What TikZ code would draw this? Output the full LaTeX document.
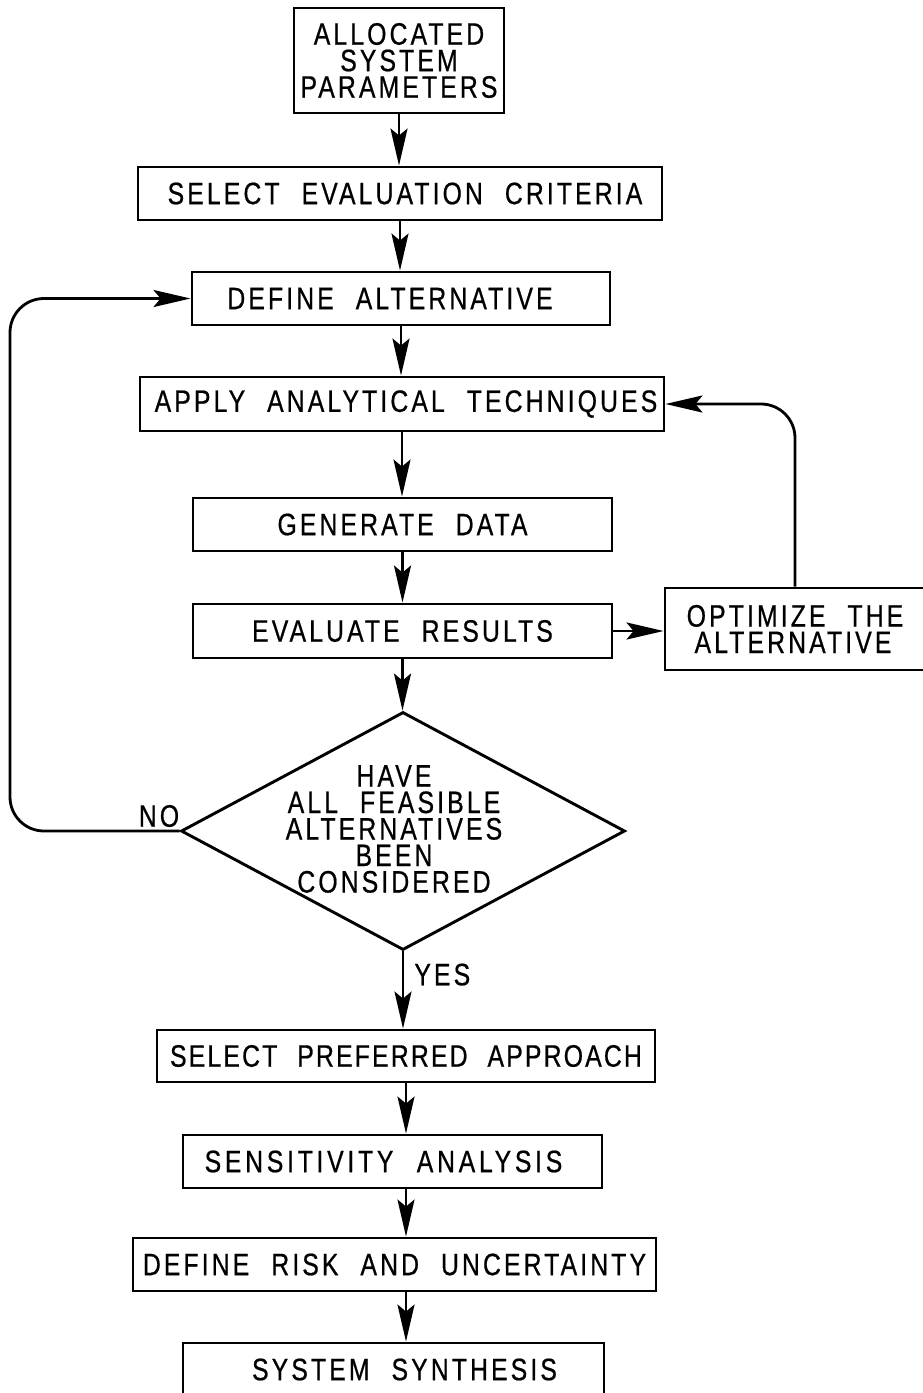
\documentclass[tikz,border=0pt]{standalone}
\usepackage{fontspec}
\setmainfont{Liberation Sans}[FakeStretch=0.8, LetterSpace=10, WordSpace=2.2, FakeBold=0.6]
\usetikzlibrary{arrows.meta, shapes.geometric}
\newcommand\flowfont{\fontsize{31}{26.5}\selectfont}
\tikzset{
  box/.style={draw, line width=2.9pt, minimum width=#1, minimum height=53pt,
              inner sep=0pt, font=\flowfont, align=center},
  arr/.style={line width=2.8pt, -{Stealth[length=37pt, width=17pt, inset=7pt]}},
  loop/.style={arr, rounded corners=34pt},
  tag/.style={font=\flowfont, inner sep=0pt},
}
\begin{document}
\begin{tikzpicture}[x=1pt, y=-1pt]
\useasboundingbox (0,0) rectangle (923,1393);
\clip (0,0) rectangle (923,1393);

% process boxes along the main spine
\node[box=210pt, minimum height=105pt] (alloc) at (399,60.5)
  {ALLOCATED\\SYSTEM\\PARAMETERS};
\node[box=524pt] (crit)   at (400,193.5) {\hspace*{10pt}SELECT EVALUATION CRITERIA};
\node[box=418pt] (defalt) at (401,298.5) {DEFINE ALTERNATIVE\hspace*{22pt}};
\node[box=524pt, minimum height=54pt] (apply) at (402,404) {\hspace*{8pt}APPLY ANALYTICAL TECHNIQUES};
\node[box=419pt] (gen)    at (402.5,524.5) {GENERATE DATA};
\node[box=419pt, minimum height=54pt] (evalr) at (402.5,631) {EVALUATE RESULTS};
\node[box=260pt, minimum height=82pt] (optim) at (795,629)
  {OPTIMIZE THE\\ALTERNATIVE\hspace*{4pt}};

% decision
\node[diamond, draw, line width=2.9pt, minimum width=444pt, minimum height=238pt,
      inner sep=0pt] (dec) at (403,831) {};
\node[tag, align=center] (dectext) at (394,829)
  {HAVE\\ALL FEASIBLE\\ALTERNATIVES\\BEEN\\CONSIDERED};

% lower chain
\node[box=498pt, minimum height=52pt] (pref) at (406,1056)
  {\addfontfeature{LetterSpace=7}SELECT PREFERRED APPROACH};
\node[box=419pt] (sens)  at (392.5,1161.5)
  {\addfontfeature{LetterSpace=12}SENSITIVITY ANALYSIS\hspace*{18pt}};
\node[box=523pt] (risk)  at (394.5,1264.5) {DEFINE RISK AND UNCERTAINTY};
\node[box=421pt] (synth) at (393.5,1369.5) {\hspace*{22pt}SYSTEM SYNTHESIS};

% spine connectors
\draw[arr] (alloc.south) -- (alloc.south |- crit.north);
\draw[arr] (crit.south)  -- (crit.south |- defalt.north);
\draw[arr] (defalt.south) -- (defalt.south |- apply.north);
\draw[arr] (apply.south) -- (apply.south |- gen.north);
\draw[arr] (gen.south)   -- (gen.south |- evalr.north);
\draw[arr] (evalr.south) -- (evalr.south |- dec.north);
\draw[arr] (dec.south)   -- node[tag, right=10pt, pos=0.3] (yes) {YES} (dec.south |- pref.north);
\draw[arr] (pref.south)  -- (pref.south |- sens.north);
\draw[arr] (sens.south -| pref.south) -- (pref.south |- risk.north);
\draw[arr] (risk.south -| pref.south) -- (pref.south |- synth.north);

% optimisation loop
\draw[arr] (evalr.east) -- (evalr.east -| optim.west);
\draw[loop] (optim.north) |- (apply.east);

% rejection loop back to defining an alternative
\coordinate (lx) at (10,0);
\draw[loop] (dec.west) -| (lx |- defalt.west) -- (defalt.west);
\node[tag] (no) at (159,816) {NO};
\end{tikzpicture}
\end{document}
